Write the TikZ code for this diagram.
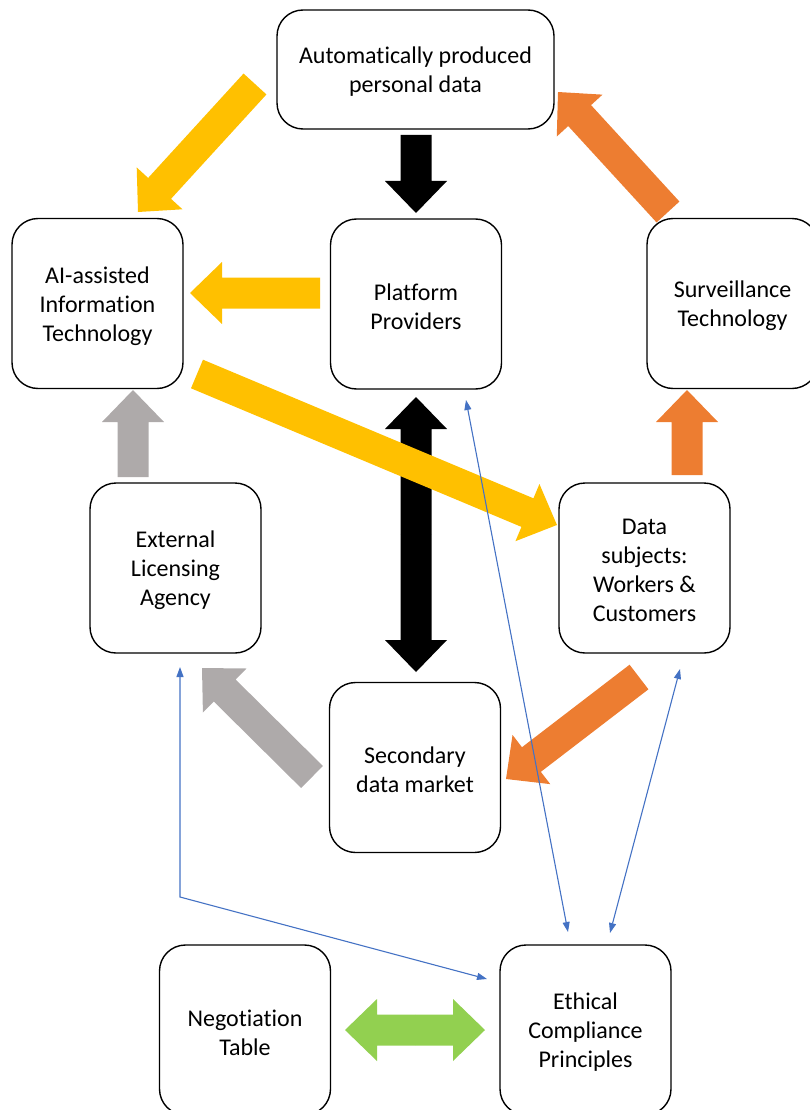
\documentclass[tikz,border=0pt]{standalone}
\usepackage{fontspec}
\setmainfont{Carlito}[Ligatures=NoCommon]
\usetikzlibrary{calc,arrows.meta}
\definecolor{cyellow}{HTML}{FFC000}
\definecolor{corange}{HTML}{ED7D31}
\definecolor{cgray}{HTML}{AEAAAA}
\definecolor{cgreen}{HTML}{92D050}
\definecolor{cblue}{HTML}{4472C4}
\tikzset{
  box/.style={draw, line width=1.4pt, rounded corners=26pt, minimum width=171pt,
    minimum height=170pt, inner sep=0pt},
  txt/.style={align=center, inner sep=0pt, yshift=-2.5pt,
    font=\fontsize{24}{29}\selectfont},
  link/.style={draw=cblue, line width=1.1pt,
    {Triangle[length=10pt,width=7pt]}-{Triangle[length=10pt,width=7pt]}}
}
% block arrow: from tail centre #1 to tip #2, colour #3
\newcommand{\barrow}[3]{%
  \fill[#3] let \p1=(#1), \p2=(#2),
    \n1={atan2(\y2-\y1,\x2-\x1)}, \n2={veclen(\x2-\x1,\y2-\y1)} in
    [shift={(\p1)}, rotate=\n1]
    (0pt,-15.5pt) -- (\n2*1pt-32pt,-15.5pt) -- (\n2*1pt-32pt,-31pt) --
    (\n2*1pt,0pt) -- (\n2*1pt-32pt,31pt) -- (\n2*1pt-32pt,15.5pt) --
    (0pt,15.5pt) -- cycle;}
\begin{document}
\begin{tikzpicture}[x=1pt,y=-1pt]
\useasboundingbox (0,0) rectangle (809,1110);
% boxes
\node[box, minimum width=277pt, minimum height=119pt, label={[txt]center:{Automatically produced\\personal data}}] (auto) at (415.5,69.5) {};
\node[box, label={[txt]center:{AI-assisted\\Information\\Technology}}] (ai) at (97.5,303.5) {};
\node[box, label={[txt]center:{Platform\\Providers}}] (plat) at (416,304) {};
\node[box, label={[txt]center:{Surveillance\\Technology}}] (surv) at (732.5,303.5) {};
\node[box, label={[txt]center:{External\\Licensing\\Agency}}] (lic) at (175.5,568) {};
\node[box, label={[txt]center:{Data\\subjects:\\Workers \&\\Customers}}] (subj) at (644.5,568) {};
\node[box, label={[txt]center:{Secondary\\data market}}] (sec) at (415,767.5) {};
\node[box, label={[txt]center:{Negotiation\\Table}}] (neg) at (245,1030) {};
\node[box, label={[txt]center:{Ethical\\Compliance\\Principles}}] (eth) at (585.5,1030) {};
% block arrow end points
\coordinate (y1t) at (255,84);  \coordinate (y1h) at (138,212);
\coordinate (k1t) at (416,135); \coordinate (k1h) at (416,213);
\coordinate (o1t) at (668,212); \coordinate (o1h) at (558,92);
\coordinate (y2t) at (320,293); \coordinate (y2h) at (190,293);
\coordinate (y3t) at (197,374); \coordinate (y3h) at (557,525);
\coordinate (k2m) at (416,534); \coordinate (k2a) at (416,397); \coordinate (k2b) at (416,672);
\coordinate (g1t) at (133,477); \coordinate (g1h) at (133,390);
\coordinate (o2t) at (687,475); \coordinate (o2h) at (687,390);
\coordinate (g2t) at (312,777); \coordinate (g2h) at (202,668);
\coordinate (o3t) at (639,677); \coordinate (o3h) at (506,779);
\coordinate (gnm) at (415,1030); \coordinate (gna) at (345,1030); \coordinate (gnb) at (485,1030);
% block arrows
\barrow{y1t}{y1h}{cyellow}
\barrow{k1t}{k1h}{black}
\barrow{o1t}{o1h}{corange}
\barrow{y2t}{y2h}{cyellow}
\barrow{k2m}{k2a}{black}
\barrow{k2m}{k2b}{black}
\barrow{y3t}{y3h}{cyellow}
\barrow{g1t}{g1h}{cgray}
\barrow{o2t}{o2h}{corange}
\barrow{g2t}{g2h}{cgray}
\barrow{o3t}{o3h}{corange}
\barrow{gnm}{gna}{cgreen}
\barrow{gnm}{gnb}{cgreen}
% thin blue links
\coordinate (b1a) at (466,400); \coordinate (b1b) at (568,932);
\coordinate (b2a) at (680,669); \coordinate (b2b) at (610,933);
\coordinate (b3a) at (180,667); \coordinate (b3c) at (180,897); \coordinate (b3b) at (487,979);
\draw[link] (b1a) -- (b1b);
\draw[link] (b2a) -- (b2b);
\draw[link] (b3a) -- (b3c) -- (b3b);
\end{tikzpicture}
\end{document}
